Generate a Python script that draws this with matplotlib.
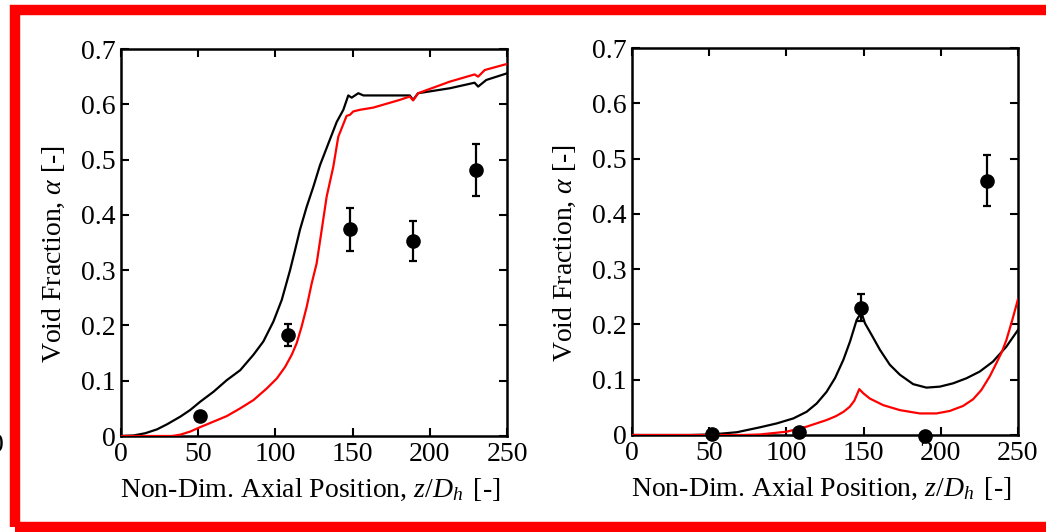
import matplotlib
matplotlib.use("Agg")
import matplotlib.pyplot as plt
from matplotlib.patches import Rectangle
from matplotlib.ticker import FuncFormatter

plt.rcParams['font.family'] = ['Liberation Serif', 'DejaVu Serif']
plt.rcParams['mathtext.fontset'] = 'custom'
plt.rcParams['mathtext.rm'] = 'Liberation Serif'
plt.rcParams['mathtext.it'] = 'Liberation Serif:italic'

# ---- Left panel data ----
left_black_x = [0, 8.2, 15.7, 23.3, 29.7, 38.4, 44.8, 51.3, 59.9, 68.5, 77.2, 85.8, 92.2, 98.7, 104.1,
                109.5, 112.7, 115.9, 120.3, 124.6, 128.9, 134.3, 139.7, 144, 147.2, 149.4, 153.7, 157,
                187, 189.2, 192.4, 213, 229, 231.3, 236.6, 250]
left_black_y = [0, 0.001, 0.005, 0.012, 0.021, 0.035, 0.047, 0.062, 0.080, 0.101, 0.119, 0.147, 0.171, 0.207, 0.246,
                0.300, 0.336, 0.373, 0.415, 0.451, 0.490, 0.529, 0.568, 0.590, 0.616, 0.612, 0.620, 0.616,
                0.616, 0.608, 0.620, 0.629, 0.639, 0.632, 0.644, 0.656]
left_red_x = [0, 33, 38.4, 44.8, 51.3, 59.9, 68.5, 77.2, 85.8, 94.4, 100.9, 106.3, 110.6, 113.8, 117,
              120.3, 123.5, 126.7, 130, 133.2, 137.5, 140.7, 146.1, 148.3, 150.4, 154.7, 163.4, 172, 180.6,
              187, 189.2, 192.4, 213, 229, 231.3, 235.6, 250]
left_red_y = [0, 0, 0.0024, 0.008, 0.016, 0.026, 0.036, 0.050, 0.065, 0.086, 0.104, 0.125, 0.147, 0.168, 0.198,
              0.234, 0.276, 0.312, 0.373, 0.433, 0.487, 0.541, 0.579, 0.581, 0.587, 0.590, 0.594, 0.601, 0.608,
              0.614, 0.607, 0.620, 0.641, 0.654, 0.650, 0.662, 0.673]
left_exp_x = [51.3, 108, 148.3, 189.2, 229.7]
left_exp_y = [0.036, 0.183, 0.374, 0.353, 0.482]
left_exp_err = [0.0, 0.020, 0.039, 0.036, 0.047]

# ---- Right panel data ----
right_black_x = [0, 37.7, 51.7, 67.9, 83, 93.8, 104.5, 113.1, 119.6, 126, 131.5, 136.9, 141.2, 145.5, 148.5,
                 150.9, 155.2, 160.6, 167, 173.5, 182.1, 190.7, 199.4, 208, 216.6, 225.2, 233.8, 242.5, 250]
right_black_y = [0, 0, 0.001, 0.005, 0.014, 0.021, 0.030, 0.042, 0.057, 0.078, 0.103, 0.136, 0.169, 0.208, 0.222,
                 0.202, 0.181, 0.154, 0.127, 0.109, 0.092, 0.0857, 0.0875, 0.0935, 0.1026, 0.1147, 0.1328, 0.160, 0.190]
right_red_x = [0, 72, 83, 100.2, 113, 126, 132, 137, 141, 144, 147.2, 149.8, 154, 162.7, 173.5, 186.4, 197.2,
               205.8, 214.4, 220.9, 226.3, 231.7, 236, 239.5, 242.5, 246, 250]
right_red_y = [0, 0, 0.001, 0.006, 0.015, 0.027, 0.034, 0.042, 0.051, 0.062, 0.083, 0.0755, 0.066, 0.054, 0.045,
               0.039, 0.039, 0.0435, 0.0525, 0.0646, 0.0815, 0.106, 0.130, 0.150, 0.172, 0.205, 0.2456]
right_exp_x = [51.7, 108.2, 148.3, 189.7, 230]
right_exp_y = [0.001, 0.005, 0.2305, -0.001, 0.46]
right_exp_err = [0.0, 0.0, 0.025, 0.0, 0.046]

x_ticks = [0, 50, 100, 150, 200, 250]
y_ticks = [0, 0.1, 0.2, 0.3, 0.4, 0.5, 0.6, 0.7]

W, H = 1046, 532
fig = plt.figure(figsize=(W / 100, H / 100), dpi=100)

# red frame
frame = Rectangle((15 / W, 5 / H), (1080 - 15) / W, (522 - 5) / H, transform=fig.transFigure,
                  fill=False, edgecolor='#ff0000', linewidth=7.5, clip_on=False)
fig.add_artist(frame)

fmt = FuncFormatter(lambda v, p: '0' if abs(v) < 1e-9 else ('%g' % v))

def make_ax(left_px, right_px, top_px, bottom_px):
    return fig.add_axes([left_px / W, 1 - bottom_px / H, (right_px - left_px) / W, (bottom_px - top_px) / H])

axes = [make_ax(121, 507, 49, 436), make_ax(632, 1018, 48, 435)]
data = [
    (left_black_x, left_black_y, left_red_x, left_red_y, left_exp_x, left_exp_y, left_exp_err),
    (right_black_x, right_black_y, right_red_x, right_red_y, right_exp_x, right_exp_y, right_exp_err),
]

for ax, (bx, by, rx, ry, ex, ey, ee) in zip(axes, data):
    ax.plot(bx, by, color='black', linewidth=1.6, zorder=3)
    ax.plot(rx, ry, color='#ff0000', linewidth=1.6, zorder=3)
    ax.errorbar(ex, ey, yerr=ee, fmt='o', color='black', markersize=9.5, elinewidth=1.6,
                capsize=3, capthick=1.6, zorder=4, clip_on=False)
    ax.set_xlim(0, 250)
    ax.set_ylim(0, 0.7)
    ax.set_xticks(x_ticks)
    ax.set_yticks(y_ticks)
    ax.xaxis.set_major_formatter(fmt)
    ax.yaxis.set_major_formatter(fmt)
    ax.tick_params(direction='in', top=True, right=True, length=6, width=1.5,
                   labelsize=20, pad=4)
    for s in ax.spines.values():
        s.set_linewidth(1.8)
    ax.set_xlabel(r'Non-Dim. Axial Position, $z/D_{h}\,$ [-]', fontsize=20)
    ax.set_ylabel(r'Void Fraction, $\alpha$ [-]', fontsize=20)
    ax.xaxis.set_label_coords(0.49, -0.105)
    ax.yaxis.set_label_coords(-0.14, 0.47)

# stray clipped digit at far left
fig.text(4 / W, 1 - 445 / H, '0', ha='right', va='center', fontsize=20)

fig.savefig('out.png', dpi=100)
